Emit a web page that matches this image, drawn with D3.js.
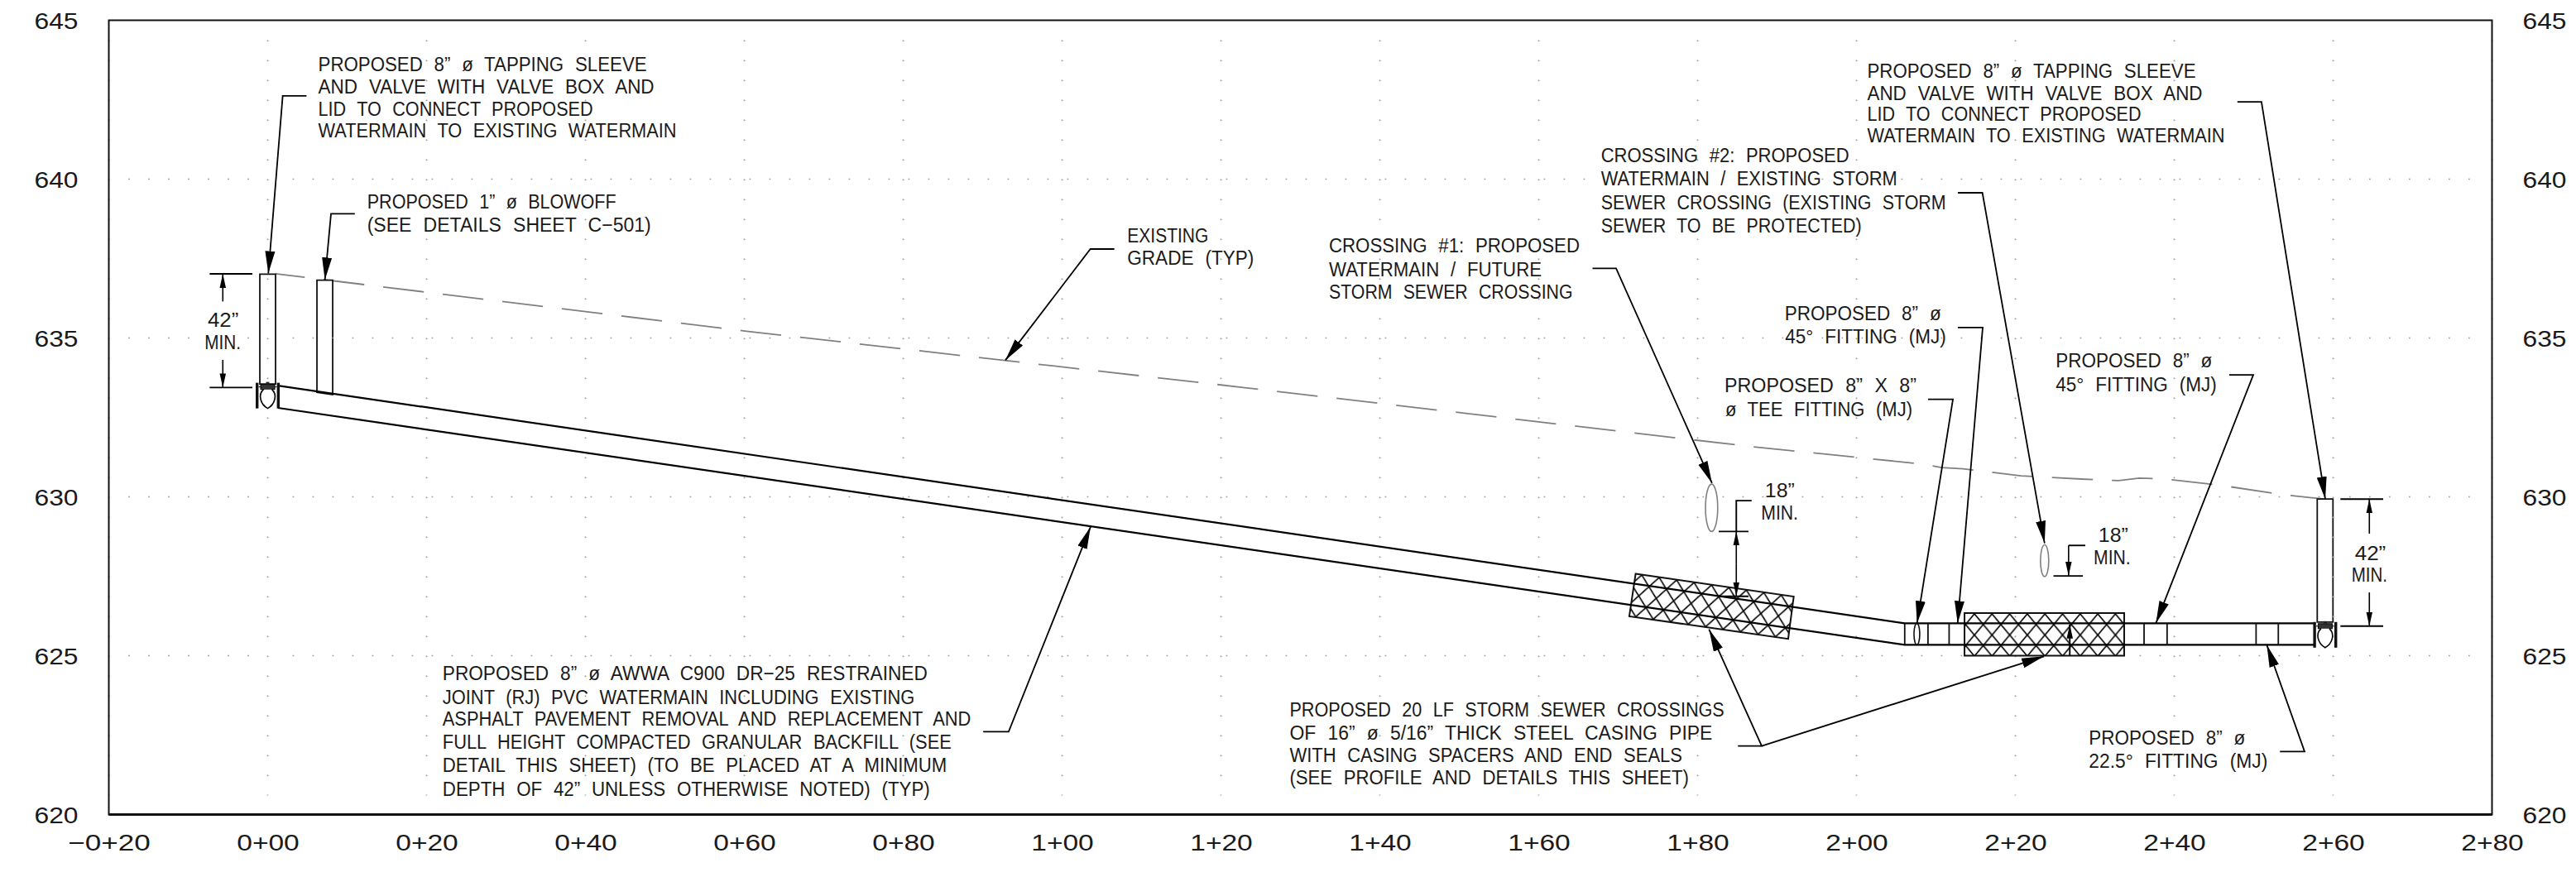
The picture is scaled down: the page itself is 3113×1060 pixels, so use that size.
<!DOCTYPE html>
<html>
<head>
<meta charset="utf-8">
<title>Watermain profile</title>
<script src="https://cdn.jsdelivr.net/npm/d3@7"></script>
<style>
  html, body { margin: 0; padding: 0; background: #fff; }
  svg { display: block; }
  text { font-family: "Liberation Sans Narrow", "Liberation Sans", sans-serif; fill: #1a1a1a; }
  .note { font-size: 23.5px; word-spacing: 8px; }
  .tick text { font-size: 28px; }
</style>
</head>
<body>
<svg id="chart" width="3113" height="1060"></svg>
<script>
// axis ticks
const elevationTicks = [620, 625, 630, 635, 640, 645];
const stationTicks = [-20, 0, 20, 40, 60, 80, 100, 120, 140, 160, 180, 200, 220, 240, 260, 280];
const stationLabels = ["−0+20", "0+00", "0+20", "0+40", "0+60", "0+80", "1+00", "1+20", "1+40", "1+60", "1+80", "2+00", "2+20", "2+40", "2+60", "2+80"];
const gridElevations = [625, 630, 635, 640];
const gridRuns = [[-17.55, -2.55], [3.13, 258.3], [262.03, 277.03]];

// existing grade, [station, elevation]
const gradeProfile = [[0.99, 637.02], [60.05, 635.22], [122.55, 633.45], [186.8, 631.58], [208.4, 631.03], [210.7, 630.92],
  [213.4, 630.88], [220.7, 630.66], [228.3, 630.56], [233, 630.51], [235.6, 630.59], [238.6, 630.57], [245.9, 630.36],
  [253.6, 630.07], [258.9, 629.93]];

// proposed watermain
const pipeTop = [[1.3, 633.5], [206.07, 626.02], [257.55, 626.02]];
const pipeBottom = [[1.3, 632.8], [206.07, 625.34], [257.55, 625.34]];
const fittingStations = [206.07, 209, 211.66, 236.2, 239.1, 250.3, 253.1];
const riserOutlines = [
  [[-0.99, 637.01], [0.99, 637.01], [0.99, 633.55], [-0.99, 633.55]],
  [[6.2, 636.82], [8.18, 636.82], [8.18, 633.22], [6.2, 633.29]],
  [[258, 629.93], [259.98, 629.93], [259.98, 626.06], [258, 626.06]]
];
const valveStations = [0, 259];
const valveTops = [633.59, 626.06];
const casingOne = [[172.2, 627.58], [192.1, 626.86], [191.4, 625.53], [171.4, 626.24]];
const casingTwo = [[213.6, 626.34], [233.7, 626.34], [233.7, 625], [213.6, 625]];
// [station, top, bottom, half width in stations]
const crossingEllipses = [[181.76, 630.4, 628.91, 0.77], [223.68, 628.49, 627.49, 0.52]];
const teeEllipse = [[207.6, 626.02, 625.34, 0.36]];

// leaders, arrow on the last point
const leaders = [
  [[4.88, 642.62], [1.89, 642.62], [0.08, 637.03]],
  [[10.97, 638.91], [7.97, 638.91], [7.2, 636.83]],
  [[106.58, 637.8], [103.56, 637.8], [92.86, 634.3]],
  [[166.77, 637.19], [169.74, 637.19], [181.81, 630.43]],
  [[212.76, 639.57], [215.85, 639.57], [223.68, 628.54]],
  [[247.95, 642.43], [250.98, 642.43], [259.01, 629.93]],
  [[212.76, 635.33], [215.89, 635.33], [212.73, 626.02]],
  [[209.01, 633.07], [212.14, 633.07], [207.62, 626.02]],
  [[246.92, 633.84], [249.95, 633.84], [237.69, 626.02]],
  [[253.31, 621.98], [256.41, 621.98], [251.65, 625.34]],
  [[90.07, 622.61], [93.27, 622.61], [103.59, 629.06]],
  [[185.08, 622.16], [188.07, 622.16], [181.44, 625.83]],
  [[188.07, 622.16], [223.6, 624.98]]
];

// dimension bits
const dimLines = [
  [[-7.31, 637.02], [-1.93, 637.02]], [[-7.31, 633.44], [-1.93, 633.44]],
  [[260.92, 629.93], [266.3, 629.93]], [[260.92, 625.93], [266.3, 625.93]],
  [[186.8, 629.88], [184.87, 629.88], [184.87, 628.91]], [[182.66, 628.91], [186.4, 628.91]], [[182.66, 626.87], [186.4, 626.87]],
  [[228.8, 628.47], [226.7, 628.47]], [[224.8, 627.51], [228.5, 627.51]],
  [[226.85, 625.98], [226.85, 625]]
];
const dimArrows = [
  [[-5.65, 636.15], [-5.65, 637.02]], [[-5.65, 634.31], [-5.65, 633.44]],
  [[264.56, 628.84], [264.56, 629.93]], [[264.56, 626.99], [264.56, 625.93]],
  [[184.87, 627.9], [184.87, 628.91]], [[184.87, 627.9], [184.87, 626.87]],
  [[226.7, 628.47], [226.7, 627.51]], [[226.85, 625.6], [226.85, 625.98]]
];

// notes
const tapLines = ["PROPOSED 8” ø TAPPING SLEEVE", "AND VALVE WITH VALVE BOX AND", "LID TO CONNECT PROPOSED", "WATERMAIN TO EXISTING WATERMAIN"];
const blowoffLines = ["PROPOSED 1” ø BLOWOFF", "(SEE DETAILS SHEET C−501)"];
const gradeLines = ["EXISTING", "GRADE (TYP)"];
const crossingOneLines = ["CROSSING #1: PROPOSED", "WATERMAIN / FUTURE", "STORM SEWER CROSSING"];
const crossingTwoLines = ["CROSSING #2: PROPOSED", "WATERMAIN / EXISTING STORM", "SEWER CROSSING (EXISTING STORM", "SEWER TO BE PROTECTED)"];
const fortyFiveLines = ["PROPOSED 8” ø", "45° FITTING (MJ)"];
const teeLines = ["PROPOSED 8” X 8”", "ø TEE FITTING (MJ)"];
const mainLines = ["PROPOSED 8” ø AWWA C900 DR−25 RESTRAINED", "JOINT (RJ) PVC WATERMAIN INCLUDING EXISTING", "ASPHALT PAVEMENT REMOVAL AND REPLACEMENT AND",
  "FULL HEIGHT COMPACTED GRANULAR BACKFILL (SEE", "DETAIL THIS SHEET) (TO BE PLACED AT A MINIMUM", "DEPTH OF 42” UNLESS OTHERWISE NOTED) (TYP)"];
const casingLines = ["PROPOSED 20 LF STORM SEWER CROSSINGS", "OF 16” ø 5/16” THICK STEEL CASING PIPE", "WITH CASING SPACERS AND END SEALS", "(SEE PROFILE AND DETAILS THIS SHEET)"];
const fittingLines = ["PROPOSED 8” ø", "22.5° FITTING (MJ)"];
const minEighteen = ["18”", "MIN."];
const minFortyTwo = ["42”", "MIN."];

var left = 131.5, right = 3011.5, top_ = 24.5, bottom = 984.5;

var xScale = d3.scaleLinear().domain([-20, 280]).range([left, right]);
var yScale = d3.scaleLinear().domain([620, 645]).range([bottom, top_]);
var line = d3.line().x(d => xScale(d[0])).y(d => yScale(d[1]));

var svg = d3.select("#chart");
var defs = svg.append("defs");

// arrow heads
function addMarker(id, len, wid) {
  defs.append("marker")
    .attr("id", id)
    .attr("markerUnits", "userSpaceOnUse")
    .attr("markerWidth", len + 2)
    .attr("markerHeight", wid + 2)
    .attr("refX", len)
    .attr("refY", wid / 2 + 1)
    .attr("orient", "auto")
    .append("path")
    .attr("d", `M0,1 L${len},${wid / 2 + 1} L0,${wid + 1} Z`)
    .attr("fill", "#000");
}
addMarker("big-arrow", 27, 12);
addMarker("dim-arrow", 17, 7.5);

// crosshatch for the casings
function addHatch(id, transform) {
  defs.append("pattern")
    .attr("id", id)
    .attr("patternUnits", "userSpaceOnUse")
    .attr("width", 21.3)
    .attr("height", 25.5)
    .attr("patternTransform", transform)
    .append("path")
    .attr("d", "M0,0 L21.3,25.5 M21.3,0 L0,25.5")
    .attr("stroke", "#000")
    .attr("stroke-width", 1.7)
    .attr("fill", "none");
}
addHatch("hatch-one", "translate(1984,695) rotate(8.2)");
addHatch("hatch-two", "translate(2386,742)");

// grade
svg.append("path")
  .attr("d", line(gradeProfile))
  .attr("fill", "none")
  .attr("stroke", "#808080")
  .attr("stroke-width", 1.8)
  .attr("stroke-dasharray", "49.5 23")
  .attr("stroke-dashoffset", 14);

// risers
svg.selectAll(".riser")
  .data(riserOutlines)
  .enter()
  .append("path")
  .attr("class", "riser")
  .attr("d", d => line(d) + "Z")
  .attr("fill", "#fff")
  .attr("stroke", "#111")
  .attr("stroke-width", 1.8);

// dotted grid
var grid = svg.append("g")
  .attr("fill", "none")
  .attr("stroke", "#9a9a9a")
  .attr("stroke-width", 1.7)
  .attr("stroke-dasharray", "1.7 22.3");
gridElevations.forEach(el => {
  gridRuns.forEach(run => {
    grid.append("line")
      .attr("x1", xScale(run[0]))
      .attr("x2", xScale(run[1]) + 2)
      .attr("y1", yScale(el))
      .attr("y2", yScale(el));
  });
});
stationTicks.forEach(st => {
  grid.append("line")
    .attr("x1", xScale(st))
    .attr("x2", xScale(st))
    .attr("y1", yScale(644.375))
    .attr("y2", yScale(620.6));
});

// frame
svg.append("rect")
  .attr("x", xScale(-20))
  .attr("y", yScale(645))
  .attr("width", xScale(280) - xScale(-20))
  .attr("height", yScale(620) - yScale(645))
  .attr("fill", "none")
  .attr("stroke", "#111")
  .attr("stroke-width", 2);
svg.append("line")
  .attr("x1", xScale(-20)).attr("x2", xScale(280))
  .attr("y1", yScale(620)).attr("y2", yScale(620))
  .attr("stroke", "#111").attr("stroke-width", 2.8);

// casings, under the pipe
[[casingOne, "hatch-one"], [casingTwo, "hatch-two"]].forEach(c => {
  svg.append("path").attr("d", line(c[0]) + "Z").attr("fill", `url(#${c[1]})`).attr("stroke", "#111").attr("stroke-width", 2);
});

// pipe
[pipeTop, pipeBottom].forEach(p => {
  svg.append("path").attr("d", line(p)).attr("fill", "none").attr("stroke", "#000").attr("stroke-width", 2.2);
});
svg.selectAll(".fitting")
  .data(fittingStations)
  .enter()
  .append("line")
  .attr("class", "fitting")
  .attr("x1", d => xScale(d)).attr("x2", d => xScale(d))
  .attr("y1", yScale(626.02)).attr("y2", yScale(625.34))
  .attr("stroke", "#111").attr("stroke-width", 1.8);

// storm sewer crossings and the tee
svg.selectAll(".crossing")
  .data(crossingEllipses.concat(teeEllipse))
  .enter()
  .append("ellipse")
  .attr("class", "crossing")
  .attr("cx", d => xScale(d[0]))
  .attr("cy", d => (yScale(d[1]) + yScale(d[2])) / 2)
  .attr("rx", d => xScale(d[3]) - xScale(0))
  .attr("ry", d => (yScale(d[2]) - yScale(d[1])) / 2)
  .attr("fill", "none")
  .attr("stroke", (d, i) => i < 2 ? "#808080" : "#111")
  .attr("stroke-width", 1.6);

// valves
valveStations.forEach((st, i) => {
  var cx = xScale(st), ty = yScale(valveTops[i]);
  var g = svg.append("g").attr("transform", `translate(${cx},${ty})`);
  g.append("rect").attr("x", -14.5).attr("y", 0).attr("width", 3.4).attr("height", 31).attr("fill", "#111");
  g.append("rect").attr("x", 11.1).attr("y", 0).attr("width", 3.4).attr("height", 31).attr("fill", "#111");
  g.append("rect").attr("x", -8.5).attr("y", 2).attr("width", 17).attr("height", 6).attr("fill", "#333").attr("stroke", "#000");
  g.append("rect").attr("x", -2).attr("y", -1).attr("width", 4).attr("height", 3).attr("fill", "#222");
  g.append("path")
    .attr("d", "M-5,8 C-12,14 -9,26 0,31 C9,26 12,14 5,8")
    .attr("fill", "#fff").attr("stroke", "#000").attr("stroke-width", 1.6);
  g.append("line").attr("x1", -11).attr("x2", -8.5).attr("y1", 5).attr("y2", 5).attr("stroke", "#000");
  g.append("line").attr("x1", 8.5).attr("x2", 11).attr("y1", 5).attr("y2", 5).attr("stroke", "#000");
});

// leaders
svg.selectAll(".leader")
  .data(leaders)
  .enter()
  .append("path")
  .attr("class", "leader")
  .attr("d", line)
  .attr("fill", "none")
  .attr("stroke", "#000")
  .attr("stroke-width", 1.8)
  .attr("marker-end", "url(#big-arrow)");

// dimensions
svg.selectAll(".dim")
  .data(dimLines)
  .enter()
  .append("path")
  .attr("class", "dim")
  .attr("d", line)
  .attr("fill", "none")
  .attr("stroke", "#000")
  .attr("stroke-width", 1.9);
svg.selectAll(".dim-arrow")
  .data(dimArrows)
  .enter()
  .append("path")
  .attr("class", "dim-arrow")
  .attr("d", line)
  .attr("fill", "none")
  .attr("stroke", "#000")
  .attr("stroke-width", 1.6)
  .attr("marker-end", "url(#dim-arrow)");

// text, each line pinned to the x, baseline and width
function place(lines, layout) {
  lines.forEach((txt, i) => {
    svg.append("text")
      .attr("class", "note")
      .attr("x", layout[i][0])
      .attr("y", layout[i][1])
      .attr("textLength", layout[i][2])
      .attr("lengthAdjust", "spacingAndGlyphs")
      .text(txt);
  });
}
place(tapLines, [[384.6, 86.4, 397], [384.6, 113, 406], [384.6, 139.5, 332], [384.6, 165.5, 433]]);
place(tapLines, [[2256.5, 93.6, 397], [2256.5, 120.7, 405], [2256.5, 145.9, 331], [2256.5, 172, 432]]);
place(blowoffLines, [[443.7, 251.8, 301], [443.7, 280.4, 343]]);
place(gradeLines, [[1362.3, 292.7, 98], [1362.3, 320, 153]]);
place(crossingOneLines, [[1606, 305.4, 303], [1606, 333.9, 257], [1606, 361.4, 294.5]]);
place(crossingTwoLines, [[1934.7, 196.4, 300], [1934.7, 224.3, 358], [1934.7, 252.7, 417], [1934.7, 281.2, 315]]);
place(fortyFiveLines, [[2156.7, 386.7, 189], [2157.3, 415.3, 194.4]]);
place(fortyFiveLines, [[2484.3, 444.3, 189], [2484.3, 472.7, 194.4]]);
place(teeLines, [[2084, 474.3, 232], [2085, 502.7, 226]]);
place(mainLines, [[534.8, 822.3, 586], [534.8, 850.7, 570.5], [534.8, 876.5, 638.5], [534.8, 905, 615], [534.8, 933.3, 609.5], [534.8, 961.7, 589]]);
place(casingLines, [[1558.4, 866, 525.4], [1558.4, 894.3, 511], [1558.4, 920.5, 474.6], [1558.4, 948.3, 482.6]]);
place(fittingLines, [[2524.3, 900, 189], [2524.3, 928.3, 216]]);
place(minEighteen, [[2132.8, 600.7, 36], [2128.3, 628, 44.7]]);
place(minEighteen, [[2535.8, 655.3, 36], [2530, 682.3, 44.7]]);
place(minFortyTwo, [[251, 395, 37.3], [247.3, 422, 43.7]]);
place(minFortyTwo, [[2845.7, 676.7, 37.6], [2841.7, 703.3, 43.3]]);

// axes
var yLeft = d3.axisLeft(yScale).tickValues(elevationTicks).tickSize(0).tickPadding(37);
var yRight = d3.axisRight(yScale).tickValues(elevationTicks).tickSize(0).tickPadding(37);
var xAxis = d3.axisBottom(xScale).tickValues(stationTicks).tickSize(0).tickFormat((d, i) => stationLabels[i]);

var gLeft = svg.append("g").attr("transform", `translate(${left},0)`).call(yLeft);
var gRight = svg.append("g").attr("transform", `translate(${right},0)`).call(yRight);
var gBottom = svg.append("g").attr("transform", `translate(0,${bottom})`).call(xAxis);
[gLeft, gRight, gBottom].forEach(g => g.select(".domain").remove());

svg.selectAll(".tick text").attr("lengthAdjust", "spacingAndGlyphs");
gLeft.selectAll("text").attr("dy", 10).attr("textLength", 53);
gRight.selectAll("text").attr("dy", 10).attr("textLength", 53);
gBottom.selectAll("text")
  .attr("y", 43.5)
  .attr("dy", 0)
  .attr("textLength", (d, i) => i === 0 ? 99.5 : 75.5);
</script>
</body>
</html>
